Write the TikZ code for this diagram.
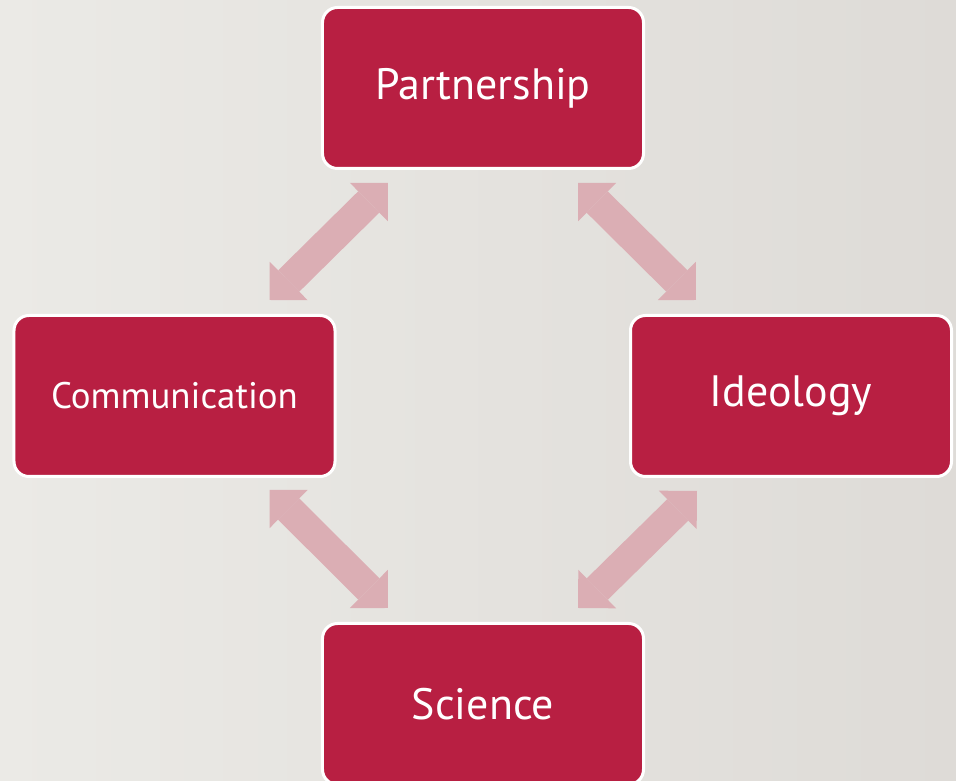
\documentclass[tikz,border=0pt]{standalone}
\usepackage{xcolor}
\usepackage{fontspec}
\setmainfont{PT Sans}
\usepackage{tikz}
\usetikzlibrary{arrows.meta,positioning}

\definecolor{boxred}{HTML}{B81F42}
\definecolor{linkpink}{HTML}{DBAEB4}
\definecolor{bgleft}{HTML}{EBEAE6}
\definecolor{bgright}{HTML}{DEDBD7}

\begin{document}
\begin{tikzpicture}[x=0.2mm,y=-0.2mm,
  box/.style={rectangle,rounded corners=3mm,fill=boxred,draw=white,line width=0.6mm,
    minimum width=64.2mm,minimum height=32.2mm,text=white,font=\fontsize{25}{30}\selectfont},
  link/.style={draw=linkpink,line width=6mm,
    {Triangle[length=5.4mm 0 0,width=10.8mm 0 0,line width=0pt 0 0]}-{Triangle[length=5.4mm 0 0,width=10.8mm 0 0,line width=0pt 0 0]}}]

    % Background
	\shade[left color=bgleft,right color=bgright] (0,0) rectangle (956,781);
	\clip (0,0) rectangle (956,781);

    % The boxes
	\node [box] at (483,88) (part) {Partnership};
	\node [box,font=\fontsize{21}{25}\selectfont] at (174.5,396) (comm) {Communication};
	\node [box] at (791,396) (ideo) {Ideology};
	\node [box] at (483,704) (sci) {Science};

	% Arrows
	\draw [link] ([shift={(67,13)}]part.south west) -- ([shift={(-67,-14)}]comm.north east);
	\draw [link] ([shift={(-67,13)}]part.south east) -- ([shift={(67,-14)}]ideo.north west);
	\draw [link] ([shift={(-67,12)}]comm.south east) -- ([shift={(67,-14)}]sci.north west);
	\draw [link] ([shift={(68,13)}]ideo.south west) -- ([shift={(-67,-14)}]sci.north east);

\end{tikzpicture}
\end{document}
